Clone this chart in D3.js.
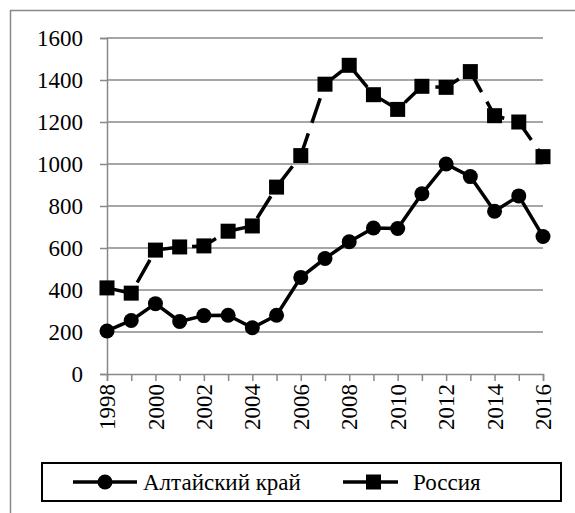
<!DOCTYPE html>
<html>
<head>
<meta charset="utf-8">
<script src="https://cdn.jsdelivr.net/npm/d3@7"></script>
</head>
<body style="margin:0">
<script>
// data
var years = [1998,1999,2000,2001,2002,2003,2004,2005,2006,2007,2008,2009,2010,2011,2012,2013,2014,2015,2016]
var altai = [205,255,335,250,278,280,220,280,460,550,630,695,693,858,1000,940,775,848,655]
var russia = [410,385,590,605,610,680,705,890,1040,1380,1470,1330,1260,1370,1365,1440,1230,1200,1035]
var yTicks = [0,200,400,600,800,1000,1200,1400,1600]
var seriesNames = ['Алтайский край','Россия']

var size = {width:575,height:513}
var plot = {left:107,right:543,top:38,bottom:374}
var fontSpec = '23px "Times New Roman"'

const svg = d3.select('body')
  .append('svg')
  .attr('width',size.width)
  .attr('height',size.height)

// outer frame
svg.append('rect')
  .attr('x',10.5).attr('y',10.5)
  .attr('width',size.width+10).attr('height',size.height+10)
  .attr('fill','none').attr('stroke','#888').attr('stroke-width',1.5)

let x = d3.scalePoint().domain(years).range([plot.left,plot.right])
let y = d3.scaleLinear().domain([0,1600]).range([plot.bottom,plot.top])

// grid
svg.append('g').selectAll('line')
  .data(yTicks.slice(1))
  .enter().append('line')
  .attr('x1',plot.left).attr('x2',plot.right)
  .attr('y1',d=>y(d)).attr('y2',d=>y(d))
  .attr('stroke','#888').attr('stroke-width',1.5)

// y axis
let yAxis = svg.append('g')
  .attr('transform',`translate(${plot.left},0)`)
  .call(d3.axisLeft(y).tickValues(yTicks).tickSize(7).tickPadding(17).tickFormat(d3.format('d')))
yAxis.attr('font-family',null).attr('font-size',null)
yAxis.select('.domain').attr('stroke','#888').attr('stroke-width',1.5)
yAxis.selectAll('.tick line').attr('stroke','#888').attr('stroke-width',1.5)
yAxis.selectAll('text').style('font',fontSpec).attr('fill','#000')

// x axis
let xAxis = svg.append('g')
  .attr('transform',`translate(0,${plot.bottom})`)
  .call(d3.axisBottom(x).tickSize(7).tickFormat(d=>d%2==0?d:''))
xAxis.attr('font-family',null).attr('font-size',null)
xAxis.select('.domain').attr('stroke','#888').attr('stroke-width',1.5)
xAxis.selectAll('.tick line').attr('stroke','#888').attr('stroke-width',1.5)
xAxis.selectAll('text')
  .style('font',fontSpec).attr('fill','#000')
  .attr('transform','rotate(-90)')
  .attr('text-anchor','end')
  .attr('x',-10).attr('y',0).attr('dy','0.33em')

let line = d3.line().x((d,i)=>x(years[i])).y(d=>y(d))

// Altai series
svg.append('path').datum(altai)
  .attr('d',line).attr('fill','none')
  .attr('stroke','#000').attr('stroke-width',3.5).attr('stroke-linejoin','round')
svg.append('g').selectAll('circle')
  .data(altai).enter().append('circle')
  .attr('cx',(d,i)=>x(years[i])).attr('cy',d=>y(d)).attr('r',7.5)
  .attr('fill','#000')

// Russia series
svg.append('path').datum(russia)
  .attr('d',line).attr('fill','none')
  .attr('stroke','#000').attr('stroke-width',3.5)
  .attr('stroke-dasharray','26,11')
svg.append('g').selectAll('rect')
  .data(russia).enter().append('rect')
  .attr('x',(d,i)=>x(years[i])-7.5).attr('y',d=>y(d)-7.5)
  .attr('width',15).attr('height',15)
  .attr('fill','#000')

// legend
let legend = svg.append('g')
legend.append('rect')
  .attr('x',42).attr('y',463).attr('width',519).attr('height',38)
  .attr('fill','#fff').attr('stroke','#000').attr('stroke-width',2)

let lg1 = legend.append('g')
lg1.append('line').attr('x1',73).attr('x2',137).attr('y1',482).attr('y2',482)
  .attr('stroke','#000').attr('stroke-width',3.5)
lg1.append('circle').attr('cx',105).attr('cy',482).attr('r',7.5).attr('fill','#000')
lg1.append('text').attr('x',143).attr('y',482).attr('dy','0.35em')
  .style('font',fontSpec).text(seriesNames[0])

let lg2 = legend.append('g')
lg2.append('line').attr('x1',343).attr('x2',398).attr('y1',482).attr('y2',482)
  .attr('stroke','#000').attr('stroke-width',3.5).attr('stroke-dasharray','30,7,18')
lg2.append('rect').attr('x',366).attr('y',474.5).attr('width',15).attr('height',15).attr('fill','#000')
lg2.append('text').attr('x',413).attr('y',482).attr('dy','0.35em')
  .style('font',fontSpec).text(seriesNames[1])
</script>
</body>
</html>
